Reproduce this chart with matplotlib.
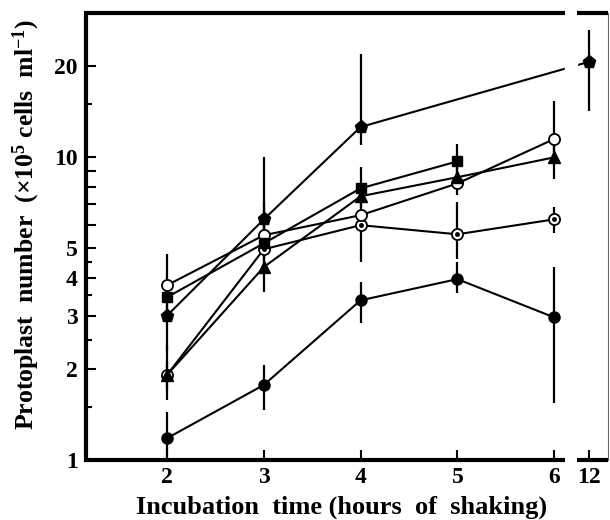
import numpy as np
import matplotlib.pyplot as plt
from matplotlib.ticker import NullFormatter

plt.rcParams['font.family'] = ['Liberation Serif', 'DejaVu Serif']
plt.rcParams['font.weight'] = 'bold'
plt.rcParams['mathtext.default'] = 'regular'

# x axis: hours of shaking (12 h sits after a break in the axis)
hour_ticks = [2, 3, 4, 5, 6, 12]
hour_labels = ['2', '3', '4', '5', '6', '12']

# series: y values with lower/upper ends of the error bars (x10^5 cells/ml)
pent_x = [2, 3, 4, 12]
pent_y = [3.0, 6.24, 12.6, 20.7]
pent_lo = [2.3, 5.0, 11.0, 14.2]
pent_hi = [3.8, 10.0, 22.0, 26.3]

sq_x = [2, 3, 4, 5]
sq_y = [3.45, 5.2, 7.9, 9.7]
sq_lo = [3.1, 4.6, 7.0, 8.8]
sq_hi = [3.9, 7.1, 9.27, 11.1]

tri_x = [2, 3, 4, 5, 6]
tri_y = [1.91, 4.34, 7.44, 8.6, 10.0]
tri_lo = [1.58, 3.58, 6.8, 8.0, 8.46]
tri_hi = [2.4, 5.0, 8.0, 9.2, 11.0]

oc_x = [2, 3, 4, 5, 6]
oc_y = [3.78, 5.53, 6.44, 8.2, 11.5]
oc_lo = [3.4, 5.0, 6.0, 7.5, 10.0]
oc_hi = [4.8, 6.0, 7.0, 8.8, 15.4]

dot_x = [2, 3, 4, 5, 6]
dot_y = [1.91, 4.97, 5.97, 5.57, 6.24]
dot_lo = [1.7, 4.5, 4.5, 4.6, 5.62]
dot_hi = [2.1, 5.4, 6.5, 7.1, 6.84]

fc_x = [2, 3, 4, 5, 6]
fc_y = [1.18, 1.77, 3.37, 3.96, 2.96]
fc_lo = [0.9, 1.46, 2.83, 3.56, 1.54]
fc_hi = [1.44, 2.06, 3.87, 4.5, 4.34]

X0, X1 = 1.163, 6.558      # x limits in plot units
GAP0, GAP1 = 6.114, 6.238  # the axis break
X12 = 6.362                # where 12 h is drawn


def xpos(h):
    h = np.asarray(h, dtype=float)
    return np.where(h > 6, X12, h)


def series(ax, x, y, lo, hi, **kw):
    y = np.asarray(y)
    yerr = [y - np.asarray(lo), np.asarray(hi) - y]
    ax.errorbar(xpos(x), y, yerr=yerr, color='k', lw=1.5, elinewidth=1.6,
                capsize=0, mec='k', **kw)


fig = plt.figure(figsize=(6.1, 5.2), dpi=100)
ax = fig.add_axes([0.141, 0.1154, 0.856, 0.8596])
ax.set_yscale('log')
ax.set_ylim(1, 30)
ax.set_xlim(X0, X1)

series(ax, fc_x, fc_y, fc_lo, fc_hi, marker='o', ms=8, mfc='k')
series(ax, dot_x, dot_y, dot_lo, dot_hi, marker='o', ms=8, mfc='white', mew=1.3)
ax.plot(xpos(dot_x), dot_y, ls='none', marker='o', ms=2.5, color='k', zorder=3)
series(ax, oc_x, oc_y, oc_lo, oc_hi, marker='o', ms=8, mfc='white', mew=1.3)
series(ax, tri_x, tri_y, tri_lo, tri_hi, marker='^', ms=9, mfc='k')
series(ax, sq_x, sq_y, sq_lo, sq_hi, marker='s', ms=7, mfc='k')
series(ax, pent_x, pent_y, pent_lo, pent_hi, marker='p', ms=9.5, mfc='k')

# white band over the break
ax.axvspan(GAP0, GAP1, color='white', zorder=2.5)

# spines: thick left, thin right, broken top/bottom drawn by hand
for s in ['top', 'bottom']:
    ax.spines[s].set_visible(False)
ax.spines['left'].set_linewidth(3)
ax.spines['right'].set_linewidth(0.8)
ax.spines['right'].set_color('#666666')
trans = ax.get_xaxis_transform()
for yy in (0, 1):
    ax.plot([X0, GAP0], [yy, yy], transform=trans, color='k', lw=3,
            clip_on=False, solid_capstyle='butt', zorder=4)
    ax.plot([GAP1, X1], [yy, yy], transform=trans, color='k', lw=3,
            clip_on=False, solid_capstyle='butt', zorder=4)

ax.set_xticks(xpos(hour_ticks), hour_labels)
ax.tick_params(axis='x', direction='in', length=7, width=1.5, labelsize=17, pad=5)

major = [1, 2, 3, 4, 5, 6, 7, 8, 9, 10, 20]
major_lab = ['1', '2', '3', '4', '5', '', '', '', '', '10', '20']
ax.set_yticks(major, major_lab)
ax.set_yticks([1.5, 2.5, 3.5, 4.5, 15], minor=True)
ax.yaxis.set_minor_formatter(NullFormatter())
ax.tick_params(axis='y', which='major', direction='in', length=7, width=1.5,
               labelsize=17, pad=6)
ax.tick_params(axis='y', which='minor', direction='in', length=4, width=1.5)

ax.set_ylabel('Protoplast  number  (×10$^5$ cells  ml$^{-1}$)', fontsize=18.5,
              fontweight='bold')
ax.yaxis.set_label_coords(-0.084, 0.526)
ax.set_xlabel('Incubation  time (hours  of  shaking)', fontsize=19,
              fontweight='bold')
ax.xaxis.set_label_coords(0.49, -0.08)

fig.savefig('out.png', dpi=100)
